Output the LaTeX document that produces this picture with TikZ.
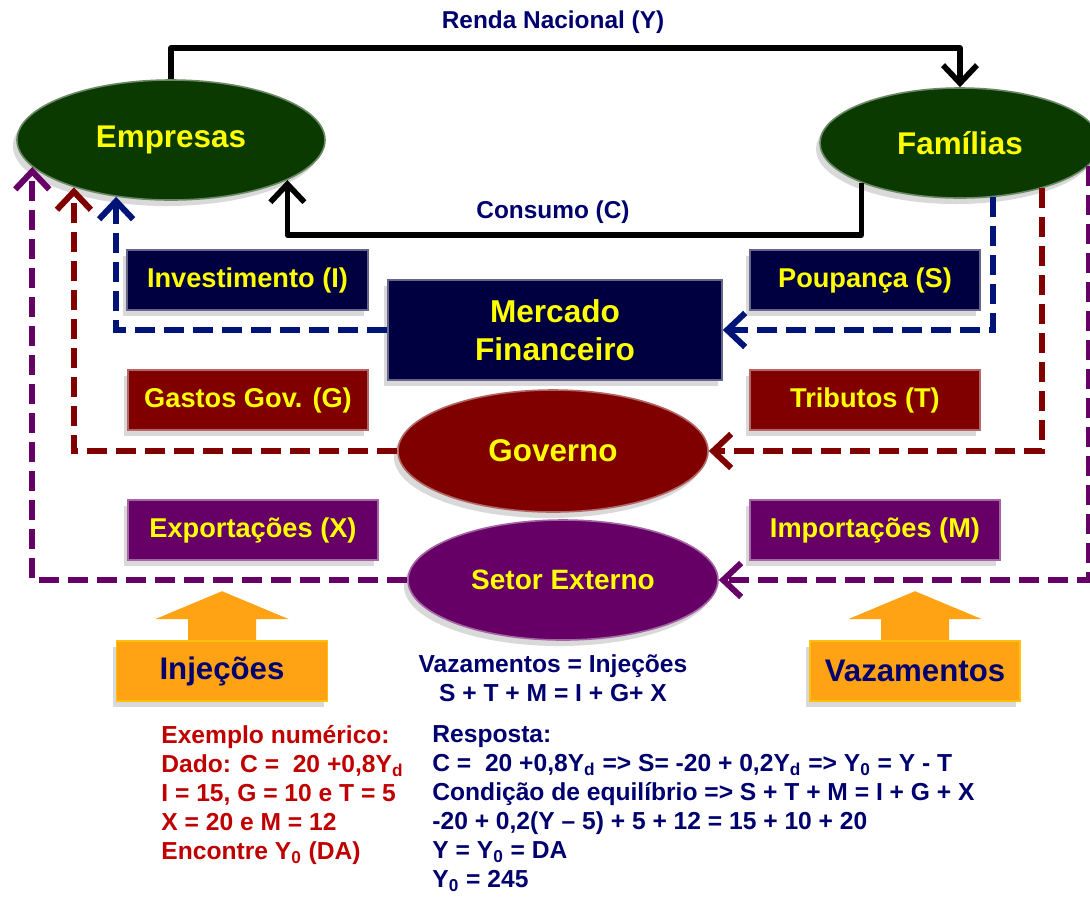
\documentclass[tikz,border=0pt]{standalone}
\usepackage{fontspec}
\setmainfont{Liberation Sans}
\usetikzlibrary{arrows.meta,positioning,calc,shapes.geometric,shadows}
\definecolor{verde}{RGB}{10,58,0}
\definecolor{azulcx}{RGB}{0,0,64}
\definecolor{vinho}{RGB}{128,0,0}
\definecolor{roxo}{RGB}{102,0,102}
\definecolor{amarelo}{RGB}{255,255,0}
\definecolor{laranja}{RGB}{255,163,20}
\definecolor{marinho}{RGB}{0,0,110}
\definecolor{vermelho}{RGB}{192,0,0}
\definecolor{azullin}{RGB}{0,20,120}

\begin{document}
\begin{tikzpicture}[x=0.5pt,y=-0.5pt,
  sombra/.style={drop shadow={shadow xshift=-2pt,shadow yshift=-3pt,opacity=.15,fill=black}},
  agente/.style={ellipse,draw=#1!60!white,line width=0.8pt,fill=#1,text=amarelo,inner sep=0pt,
    font=\bfseries\fontsize{15.7}{18}\selectfont,sombra},
  caixa/.style={rectangle,draw=#1!60!white,line width=0.8pt,fill=#1,text=amarelo,inner sep=0pt,
    minimum height=30pt,font=\bfseries\fontsize{13.6}{16}\selectfont,sombra},
  seta/.style={rectangle,draw=laranja!70!yellow,line width=0.8pt,fill=laranja,text=marinho,inner sep=0pt,
    minimum height=30pt,font=\bfseries\fontsize{15.6}{18}\selectfont,sombra},
  renda/.style={-{Straight Barb[length=9pt,width=17pt]},line width=2.8pt,line join=round},
  vaza/.style={-{Straight Barb[length=9pt,width=17pt]},line width=3pt,draw=#1,
    dash pattern=on 10pt off 4.5pt},
  rotulo/.style={text=marinho,inner sep=0pt,font=\bfseries\fontsize{12.2}{14.5}\selectfont},
  texto/.style={inner sep=0pt,font=\bfseries\fontsize{12.3}{14.5}\selectfont}]
\useasboundingbox (0,0) rectangle (1090,896);

% agentes
\node[agente=verde,minimum width=154pt,minimum height=60pt] (emp) at (171,140) {Empresas};
\node[agente=verde,minimum width=140pt,minimum height=55pt] (fam) at (960,143) {Famílias};

% fluxo real
\coordinate (rtopo) at (560,48);
\coordinate (cbase) at (560,235);
\draw[renda] (emp.north) |- (rtopo) -| (fam.north);
\draw[renda] (fam.202) |- (cbase) -| (emp.341);
\node[rotulo] (lrenda) at (553,22) {Renda Nacional (Y)};
\node[rotulo] (lcons) at (553,212) {Consumo (C)};

% mercado financeiro
\node[caixa=azulcx,minimum width=120.5pt] (inv) at (247.5,280) {Investimento (I)};
\node[caixa=azulcx,minimum width=115pt] (poup) at (865,280) {Poupança (S)};
\node[caixa=azulcx,minimum width=167pt,minimum height=50pt,align=center,
  font=\bfseries\fontsize{15.8}{19}\selectfont] (merc) at (555,330) {Mercado\\Financeiro};

% governo
\node[caixa=vinho,minimum width=120pt] (gast) at (248,400) {Gastos Gov. (G)};
\node[caixa=vinho,minimum width=115pt] (trib) at (865,400) {Tributos (T)};
\node[agente=vinho,minimum width=155pt,minimum height=61pt] (gov) at (553,451) {Governo};

% setor externo
\node[caixa=roxo,minimum width=125pt] (expo) at (253,530) {Exportações (X)};
\node[caixa=roxo,minimum width=125pt] (impo) at (875,530) {Importações (M)};
\node[agente=roxo,minimum width=155pt,minimum height=60pt,
  font=\bfseries\fontsize{14}{16}\selectfont] (ext) at (563,580) {Setor Externo};

% vazamentos e injecoes
\draw[vaza=azullin] (merc.west) -| (emp.226);
\draw[vaza=azullin] (fam.301) |- (merc.east);
\draw[vaza=vinho] (gov.west) -| (emp.206);
\draw[vaza=vinho] (fam.331) |- (gov.east);
\draw[vaza=roxo] (ext.west) -| (emp.191);
\draw[vaza=roxo] (fam.350) |- (ext.east);

% setas laranja
\node[seta,minimum width=105.5pt] (inj) at (222,671) {Injeções};
\node[seta,minimum width=105pt] (vaz) at (915,671) {Vazamentos};
\foreach \s in {inj,vaz}
  \fill[laranja] ($(\s.north)+(-34,0)$) -- ++(0,-21) -- ++(-33,0) -- ($(\s.north)+(0,-49)$)
    -- ($(\s.north)+(67,-21)$) -- ++(-33,0) -- ++(0,21) -- cycle;

% textos
\node[texto,text=marinho,align=center] (igual) at (553,678)
  {Vazamentos = Injeções\\S + T + M = I + G+ X};
\node[texto,text=vermelho,align=left,anchor=north west] (exemplo) at (161,725)
  {Exemplo numérico:\\Dado: C =~ 20 +0,8Y\textsubscript{d}\\I = 15, G = 10 e T = 5\\
   X = 20 e M = 12\\Encontre Y\textsubscript{0} (DA)};
\node[texto,text=marinho,align=left,anchor=north west] (resposta) at (432,725)
  {Resposta:\\C =~ 20 +0,8Y\textsubscript{d} => S= -20 + 0,2Y\textsubscript{d} => Y\textsubscript{0} = Y - T\\
   Condição de equilíbrio => S + T + M = I + G + X\\-20 + 0,2(Y – 5) + 5 + 12 = 15 + 10 + 20\\
   Y = Y\textsubscript{0} = DA\\Y\textsubscript{0} = 245};
\end{tikzpicture}
\end{document}
